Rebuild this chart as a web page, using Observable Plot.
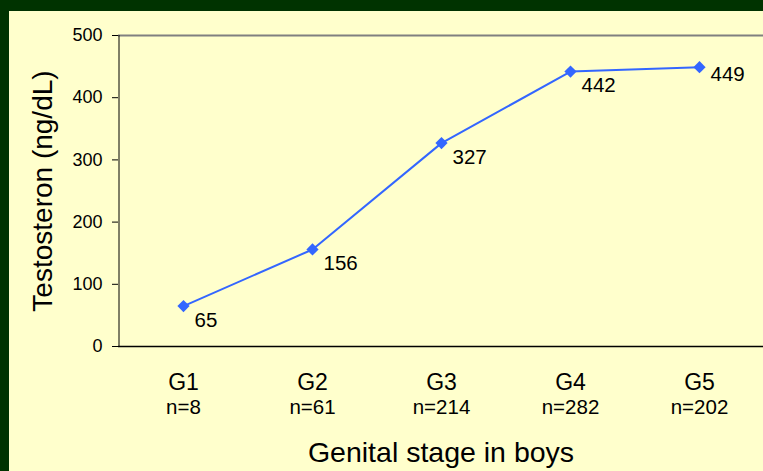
<!DOCTYPE html>
<html>
<head>
<meta charset="utf-8">
<script src="https://cdn.jsdelivr.net/npm/d3@7"></script>
<script src="https://cdn.jsdelivr.net/npm/@observablehq/plot@0.6"></script>
<style>
  html, body { margin: 0; padding: 0; background: #003300; width: 763px; height: 471px; overflow: hidden; }
  #panel { position: absolute; left: 9px; top: 11px; width: 754px; height: 460px; background: #FFFFCC; }
  svg { font-family: "Liberation Sans", Arial, sans-serif; }
</style>
</head>
<body>
<div id="panel"></div>
<script>
const stages = ["G1", "G2", "G3", "G4", "G5"];
const counts = ["n=8", "n=61", "n=214", "n=282", "n=202"];
const testosterone = [65, 156, 327, 442, 449];
const yTicks = [0, 100, 200, 300, 400, 500];

const data = stages.map((s, i) => ({stage: s, n: counts[i], value: testosterone[i]}));
const nByStage = new Map(stages.map((s, i) => [s, counts[i]]));
const lastStage = stages[stages.length - 1];

const chart = Plot.plot({
  width: 754,
  height: 460,
  marginLeft: 109,
  marginRight: 0,
  marginTop: 24,
  marginBottom: 125,
  style: {background: "transparent", fontFamily: "'Liberation Sans', Arial, sans-serif", color: "#000"},
  x: {type: "point", domain: stages, padding: 0.5},
  y: {domain: [0, 500]},
  marks: [
    Plot.ruleY([500], {stroke: "#808080", strokeWidth: 2}),
    Plot.axisY({ticks: yTicks, tickSize: 6, tickPadding: 10, fontSize: 18, label: null, stroke: "#000"}),
    Plot.ruleX([0], {x: () => stages[0], dx: -64.5, stroke: "#000", strokeWidth: 1}),
    Plot.ruleY([0], {stroke: "#000", strokeWidth: 1.5}),
    Plot.axisX({tickSize: 0, tickPadding: 27, fontSize: 23, label: null}),
    Plot.axisX({tickSize: 0, tickPadding: 53, fontSize: 20.5, label: null, tickFormat: d => nByStage.get(d)}),
    Plot.line(data, {x: "stage", y: "value", stroke: "#3366FF", strokeWidth: 2}),
    Plot.dot(data, {x: "stage", y: "value", symbol: "diamond2", r: 5.5, fill: "#3366FF", stroke: "none"}),
    Plot.text(data.filter(d => d.stage !== lastStage), {x: "stage", y: "value", text: d => String(d.value), textAnchor: "start", dx: 11, dy: 14, fontSize: 20.5, fill: "#000"}),
    Plot.text(data.filter(d => d.stage === lastStage), {x: "stage", y: "value", text: d => String(d.value), textAnchor: "start", dx: 11, dy: 7, fontSize: 20.5, fill: "#000"}),
    Plot.text(["Genital stage in boys"], {frameAnchor: "bottom", dy: 115, fontSize: 28.5, fill: "#000"}),
    Plot.text(["Testosteron (ng/dL)"], {frameAnchor: "left", textAnchor: "middle", dx: -75, rotate: -90, fontSize: 28, fill: "#000"})
  ]
});
document.getElementById("panel").appendChild(chart);
</script>
</body>
</html>
